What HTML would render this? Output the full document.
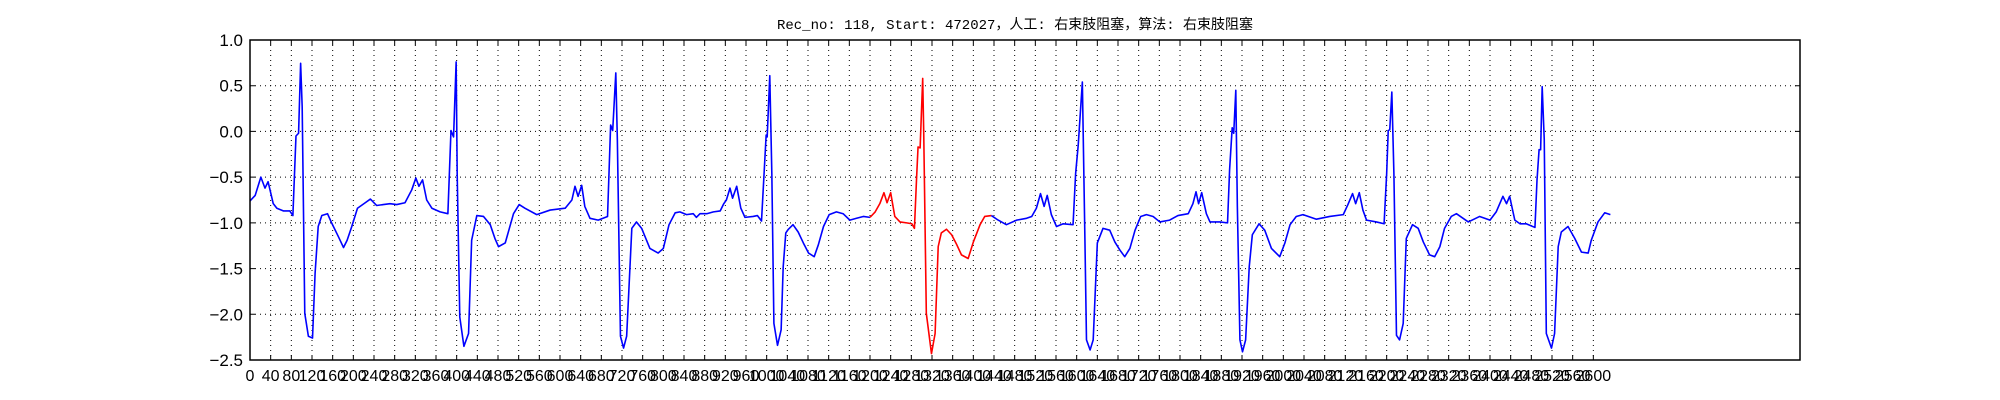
<!DOCTYPE html>
<html><head><meta charset="utf-8"><style>
html,body{margin:0;padding:0;background:#fff;width:2000px;height:400px;overflow:hidden}
svg text{font-family:"Liberation Sans","DejaVu Sans",sans-serif}
</style></head><body>
<svg id="chart" width="2000" height="400" viewBox="0 0 2000 400" xmlns="http://www.w3.org/2000/svg">
<text x="1015" y="29" text-anchor="middle" font-size="14" style="font-family:'Liberation Mono','WenQuanYi Zen Hei',monospace" fill="#000">Rec_no: 118, Start: 472027，人工: 右束肢阻塞，算法: 右束肢阻塞</text>
<g id="grid"></g>
<g id="series"></g>
<rect x="250" y="40" width="1550" height="320" fill="none" stroke="#000" stroke-width="1.5"/>
<g id="ticks"></g>
</svg>
<script>
const sampleIdx=[0,10,21,29,35,45,52,65,77,83,89,94,98,101,106,113,121,126,132,139,150,158,171,181,188,197,208,223,233,245,258,271,284,300,313,321,327,334,342,352,368,383,389,394,399,401,406,414,423,429,439,452,465,474,481,494,510,521,532,555,581,610,623,629,635,642,648,658,674,692,698,702,708,711,717,723,729,739,748,758,774,790,800,811,823,832,845,858,864,871,884,897,910,917,922,929,934,942,950,958,974,982,990,995,999,1001,1006,1010,1014,1021,1028,1032,1037,1042,1051,1061,1071,1081,1092,1100,1110,1121,1135,1148,1161,1174,1187,1200,1210,1219,1227,1233,1240,1248,1258,1271,1281,1286,1290,1293,1297,1302,1304,1309,1319,1326,1332,1338,1348,1358,1368,1377,1390,1400,1413,1422,1435,1448,1464,1484,1503,1513,1522,1530,1537,1543,1551,1561,1574,1593,1598,1603,1611,1616,1619,1626,1632,1640,1651,1664,1674,1684,1693,1703,1713,1724,1735,1748,1761,1780,1796,1816,1825,1831,1836,1842,1851,1858,1877,1892,1896,1901,1904,1908,1911,1916,1921,1927,1934,1940,1953,1964,1977,1993,2003,2013,2025,2038,2064,2090,2116,2125,2134,2140,2147,2154,2161,2180,2195,2200,2203,2206,2210,2214,2219,2225,2232,2238,2250,2261,2271,2283,2293,2303,2312,2325,2335,2358,2380,2400,2412,2425,2432,2438,2448,2458,2470,2487,2491,2495,2498,2501,2505,2509,2519,2525,2532,2538,2551,2564,2577,2590,2596,2609,2622,2633];
const ecgValues=[-0.76,-0.70,-0.50,-0.62,-0.55,-0.79,-0.84,-0.87,-0.87,-0.92,-0.05,-0.02,0.745,0.27,-1.99,-2.24,-2.26,-1.55,-1.04,-0.92,-0.90,-1.0,-1.15,-1.27,-1.19,-1.04,-0.84,-0.78,-0.74,-0.81,-0.80,-0.79,-0.80,-0.78,-0.64,-0.51,-0.60,-0.53,-0.75,-0.84,-0.88,-0.90,0.01,-0.06,0.76,-0.46,-2.03,-2.35,-2.21,-1.19,-0.92,-0.93,-1.02,-1.17,-1.26,-1.22,-0.90,-0.80,-0.84,-0.91,-0.86,-0.84,-0.75,-0.60,-0.71,-0.59,-0.82,-0.95,-0.97,-0.93,0.07,0.01,0.64,-0.09,-2.24,-2.37,-2.24,-1.06,-0.99,-1.06,-1.28,-1.33,-1.28,-1.02,-0.89,-0.88,-0.91,-0.90,-0.94,-0.90,-0.90,-0.88,-0.87,-0.79,-0.75,-0.62,-0.73,-0.60,-0.84,-0.94,-0.93,-0.92,-0.98,-0.46,-0.04,-0.06,0.61,-0.46,-2.10,-2.34,-2.17,-1.48,-1.11,-1.07,-1.02,-1.10,-1.22,-1.33,-1.37,-1.24,-1.04,-0.91,-0.88,-0.90,-0.97,-0.95,-0.93,-0.94,-0.88,-0.79,-0.67,-0.78,-0.67,-0.93,-0.99,-1.00,-1.01,-1.06,-0.53,-0.17,-0.18,0.58,-0.02,-1.99,-2.43,-2.21,-1.26,-1.11,-1.07,-1.13,-1.24,-1.35,-1.39,-1.21,-1.02,-0.93,-0.92,-0.97,-1.02,-0.97,-0.95,-0.93,-0.84,-0.68,-0.82,-0.70,-0.91,-1.04,-1.01,-1.02,-0.46,-0.15,0.54,-1.19,-2.28,-2.39,-2.28,-1.22,-1.06,-1.08,-1.21,-1.30,-1.37,-1.28,-1.08,-0.93,-0.91,-0.93,-0.99,-0.97,-0.92,-0.90,-0.79,-0.66,-0.79,-0.67,-0.90,-0.99,-0.99,-1.00,-0.42,0.04,-0.02,0.45,-0.82,-2.28,-2.41,-2.28,-1.48,-1.13,-1.01,-1.08,-1.28,-1.37,-1.22,-1.02,-0.93,-0.91,-0.96,-0.93,-0.91,-0.80,-0.68,-0.79,-0.67,-0.86,-0.97,-0.99,-1.01,-0.46,0.01,0.02,0.43,-0.46,-2.23,-2.28,-2.10,-1.17,-1.02,-1.06,-1.21,-1.35,-1.37,-1.26,-1.06,-0.93,-0.90,-0.99,-0.93,-0.97,-0.88,-0.71,-0.79,-0.71,-0.97,-1.01,-1.01,-1.05,-0.53,-0.20,-0.20,0.49,-0.09,-2.21,-2.37,-2.21,-1.26,-1.10,-1.04,-1.17,-1.32,-1.33,-1.19,-0.99,-0.89,-0.91];
const highlightRange=[1200,1435];
const xTickValues=[];for(let t=0;t<=2600;t+=40)xTickValues.push(t);
const yTickValues=[1.0,0.5,0.0,-0.5,-1.0,-1.5,-2.0,-2.5];
const yTickLabels=["1.0","0.5","0.0","\u22120.5","\u22121.0","\u22121.5","\u22122.0","\u22122.5"];

const NS="http://www.w3.org/2000/svg";
const L=250,R=1800,T=40,B=360,XMAX=3000,YMIN=-2.5,YMAX=1.0;
const xs=v=>L+(v/XMAX)*(R-L);
const ys=v=>T+(YMAX-v)/(YMAX-YMIN)*(B-T);
function mk(tag,attrs,parent){const e=document.createElementNS(NS,tag);for(const k in attrs)e.setAttribute(k,attrs[k]);parent.appendChild(e);return e;}
const grid=document.getElementById('grid'),ticks=document.getElementById('ticks'),series=document.getElementById('series');

xTickValues.forEach((t,i)=>{
  const x=xs(t);
  if(t>0){const g=mk('line',{x1:x,x2:x,y1:T,y2:B,stroke:'#000','stroke-width':1,'stroke-dasharray':'1,4'},grid);
  
  }
  const tk=mk('path',{d:`M${x},${B}v-5M${x},${T}v5`,stroke:'#000','stroke-width':1},ticks);
  
  
  const lb=mk('text',{x:x,y:381,'text-anchor':'middle','font-size':16,fill:'#000'},ticks);
  lb.textContent=String(t);
  
  
});
yTickValues.forEach((v,i)=>{
  const y=ys(v);
  if(v<YMAX&&v>YMIN){const g=mk('line',{x1:L,x2:R,y1:y,y2:y,stroke:'#000','stroke-width':1,'stroke-dasharray':'1,4'},grid);
  
  }
  const tk=mk('path',{d:`M${L},${y}h5M${R},${y}h-5`,stroke:'#000','stroke-width':1},ticks);
  
  
  const lb=mk('text',{x:243,y:y+6,'text-anchor':'end','font-size':17,fill:'#000'},ticks);
  lb.textContent=yTickLabels[i];
  
  
});
function pathFor(filter){let d='';let first=true;sampleIdx.forEach((s,i)=>{if(!filter(s))return;d+=(first?'M':'L')+xs(s).toFixed(2)+','+ys(ecgValues[i]).toFixed(2);first=false;});return d;}
const b1=mk('path',{d:pathFor(s=>s<=highlightRange[0]),fill:'none',stroke:'#0000ff','stroke-width':1.6,'stroke-linejoin':'round'},series);


const rd=mk('path',{d:pathFor(s=>s>=highlightRange[0]&&s<=highlightRange[1]),fill:'none',stroke:'#ff0000','stroke-width':1.6,'stroke-linejoin':'round'},series);


const b2=mk('path',{d:pathFor(s=>s>=highlightRange[1]),fill:'none',stroke:'#0000ff','stroke-width':1.6,'stroke-linejoin':'round'},series);


</script>
</body></html>
